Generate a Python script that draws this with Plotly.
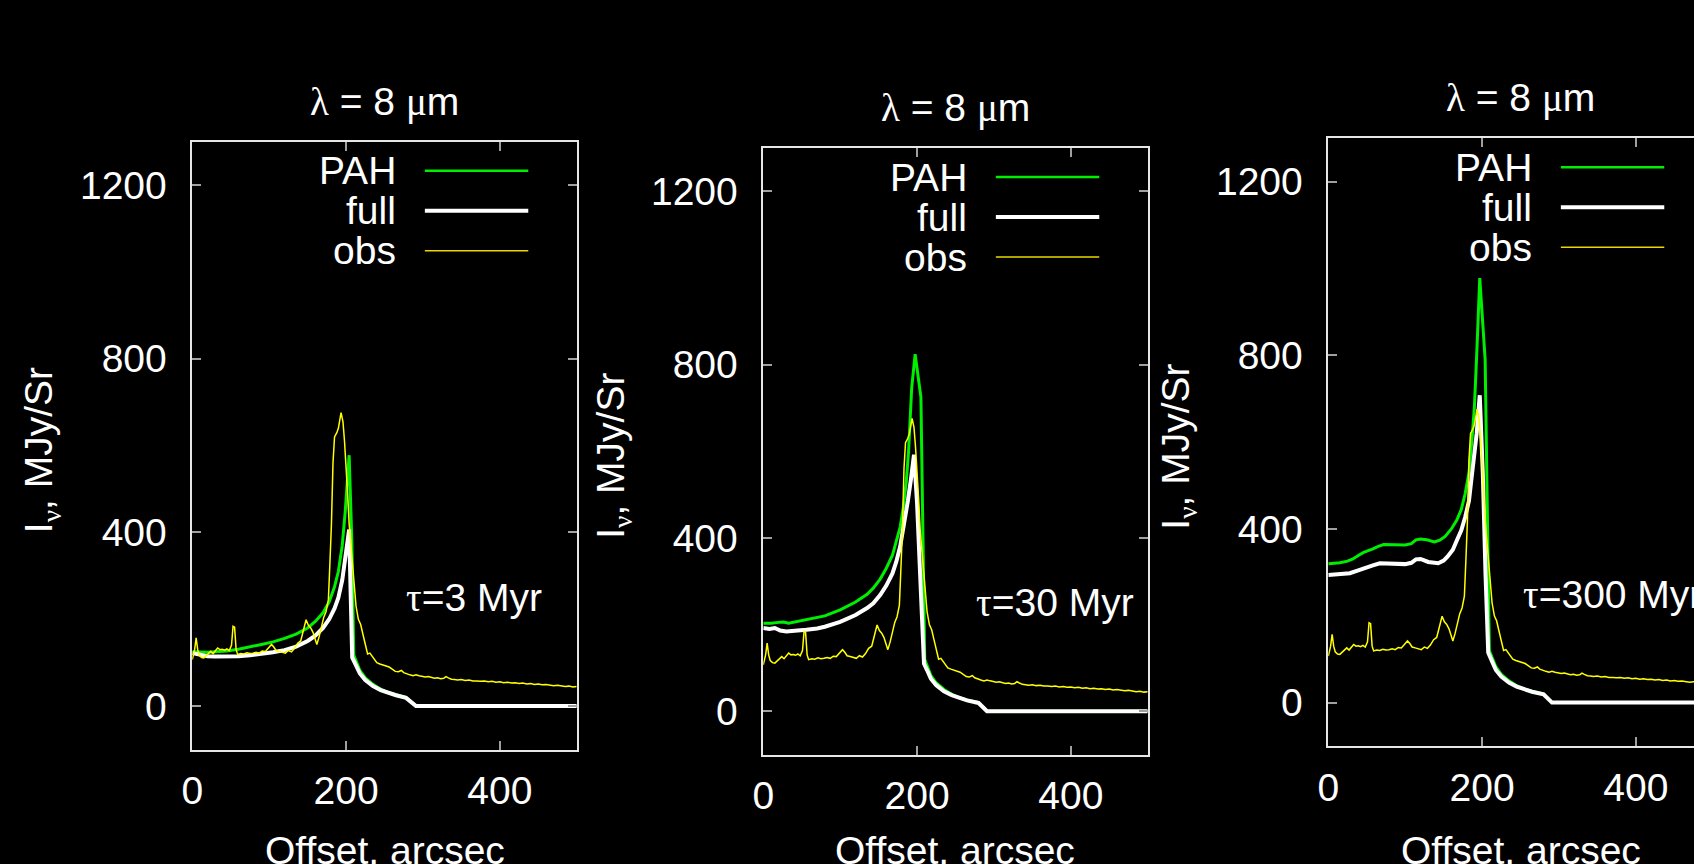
import plotly.graph_objects as go

# ---- observed 8 micron profile (same in every panel) ----
obs_x = [0, 3, 5, 7, 9, 12, 15, 18, 21, 24, 27, 30, 33, 36, 39, 42, 45, 48, 51, 53, 55, 57, 59,
         63, 67, 71, 75, 79, 83, 87, 91, 95, 99, 103, 106, 109, 113, 117, 121, 125, 129, 133,
         137, 141, 145, 148, 151, 154, 157, 160, 162, 165, 168, 171, 174, 177, 179, 181, 183,
         185, 188, 190, 193.5, 196, 198, 200, 202, 204, 207, 210, 213, 216, 219, 222, 225, 228,
         231, 234, 237, 240, 244, 248, 252, 256, 260, 264, 268, 272, 275, 279, 283, 287, 291,
         295, 299, 303, 307, 311, 315, 319, 323, 327, 330, 333, 337, 341, 345, 350, 355, 360,
         365, 370, 375, 380, 385, 390, 395, 400, 405, 410, 415, 420, 425, 430, 435, 440, 445,
         450, 455, 460, 465, 470, 475, 480, 485, 490, 495, 500]
obs_v = [107, 130, 157, 130, 117, 112, 111, 116, 122, 126, 121, 128, 134, 130, 131, 129, 132,
         128, 140, 184, 182, 130, 119, 121, 120, 123, 121, 122, 124, 122, 127, 126, 134, 142,
         136, 128, 126, 124, 122, 128, 125, 133, 145, 150, 180, 199, 186, 180, 170, 150, 142,
         160, 180, 205, 218, 245, 330, 420, 560, 620, 630, 640, 676, 655, 610, 560, 490, 420,
         360, 290, 230, 200, 188, 165, 140, 120, 122, 115, 108, 100, 97, 95, 92, 90, 85, 80,
         79, 82, 77, 74, 72, 70, 72, 70, 68, 67, 68, 66, 64, 65, 63, 64, 68, 65, 62, 61, 60,
         61, 59, 60, 58, 58, 57, 58, 56, 57, 55, 56, 54, 55, 53, 54, 52, 53, 51, 52, 50, 51,
         49, 50, 48, 47, 48, 46, 45, 46, 44, 45]

# ---- model profiles, tau = 3 Myr ----
full1_x = [0, 10, 20, 30, 45, 60, 75, 90, 105, 120, 135, 150, 160, 170, 178, 185, 190, 195,
           199, 202, 204, 208, 213, 218, 225, 235, 245, 255, 265, 278, 291, 500]
full1_v = [122, 118, 115, 114, 114, 115, 117, 120, 124, 129, 137, 150, 162, 180, 200, 225,
           250, 290, 340, 380, 407, 112, 95, 75, 60, 46, 37, 30, 25, 19, 0, 0]
pah1_x = [0, 10, 20, 30, 45, 60, 75, 90, 105, 120, 135, 150, 160, 170, 178, 185, 190, 195,
          199, 202, 204, 207.5, 210, 214, 218, 225, 235, 245, 255, 265, 278, 291, 500]
pah1_v = [125, 124, 124, 125, 127, 131, 136, 142, 148, 156, 166, 180, 195, 215, 240, 275,
          310, 370, 450, 530, 578, 380, 118, 100, 82, 65, 50, 39, 31, 26, 20, 0, 0]

# ---- model profiles, tau = 30 Myr ----
full2_x = [0, 8, 15, 22, 30, 45, 56, 70, 80, 100, 120, 135, 143, 152, 160, 168, 173, 178,
           184, 188, 192, 196, 200, 204, 209, 213, 218, 225, 235, 245, 255, 265, 280, 291, 500]
full2_v = [192, 190, 192, 186, 184, 185, 188, 191, 195, 206, 222, 238, 249, 268, 290, 318,
           345, 380, 438, 485, 535, 592, 480, 300, 110, 95, 75, 60, 46, 37, 30, 25, 19, 0, 0]
pah2_x = [0, 10, 20, 26, 33, 45, 56, 70, 80, 100, 120, 135, 143, 152, 160, 168, 173, 178,
          182, 186, 189, 193, 197.5, 205, 210, 214, 218, 225, 235, 245, 255, 265, 280, 291, 500]
pah2_v = [203, 203, 205, 206, 203, 207, 211, 216, 220, 234, 252, 270, 284, 305, 330, 360,
          392, 425, 469, 530, 600, 746, 824, 725, 119, 100, 82, 65, 50, 39, 31, 26, 20, 0, 0]

# ---- model profiles, tau = 300 Myr ----
full3_x = [0, 15, 28, 38, 46, 58, 67, 88, 100, 108, 114, 120, 130, 143, 150, 155, 162, 167,
           173, 178, 183, 186, 190, 193, 197, 201, 204.5, 208, 213, 218, 225, 235, 245, 255,
           265, 280, 291, 500]
full3_v = [294, 295, 298, 304, 308, 316, 321, 319, 319, 322, 330, 331, 324, 321, 327, 336,
           352, 373, 397, 427, 465, 512, 570, 620, 708, 527, 296, 115, 95, 75, 60, 46, 37,
           30, 25, 19, 0, 0]
pah3_x = [0, 15, 25, 32, 40, 46, 58, 65, 72, 88, 100, 108, 114, 120, 128, 138, 145, 152, 160,
          167, 173, 178, 183, 187, 190, 193, 197, 204, 209.5, 214, 218, 225, 235, 245, 255,
          265, 280, 291, 500]
pah3_v = [320, 322, 326, 331, 340, 346, 354, 360, 364, 364, 363, 366, 375, 377, 375, 370,
          374, 383, 400, 420, 445, 481, 530, 610, 680, 800, 978, 790, 120, 100, 82, 65, 50,
          39, 31, 26, 20, 0, 0]

ages = ["τ=3 Myr", "τ=30 Myr", "τ=300 Myr"]
age_x = [276, 274, 250]
age_y = [250, 250, 250]
series_names = ["PAH", "full", "obs"]
x_ticks = [0, 200, 400]
y_ticks = [0, 400, 800, 1200]

models = [(pah1_x, pah1_v, full1_x, full1_v),
          (pah2_x, pah2_v, full2_x, full2_v),
          (pah3_x, pah3_v, full3_x, full3_v)]

W, H = 1694, 864
# plot boxes in pixels: left, right, top, bottom
boxes = [(192.3, 576.7, 141.8, 749.5),
         (763.3, 1147.7, 148.0, 754.5),
         (1328.3, 1712.7, 138.3, 746.0)]

GREEN = "#00ee00"
WHITE = "#ffffff"
YELLOW = "#ffff00"
FONT = "Liberation Sans"
FS = 39
GREEK = "<span style=\"font-family:'Liberation Serif'\">%s</span>"

fig = go.Figure()
annotations = []
shapes = []

for i, (px, pv, fx, fv) in enumerate(models):
    n = "" if i == 0 else str(i + 1)
    xa, ya = "x" + n, "y" + n
    fig.add_trace(go.Scatter(x=px, y=pv, mode="lines", line=dict(color=GREEN, width=3),
                             xaxis=xa, yaxis=ya, showlegend=False, name=series_names[0]))
    fig.add_trace(go.Scatter(x=fx, y=fv, mode="lines", line=dict(color=WHITE, width=4),
                             xaxis=xa, yaxis=ya, showlegend=False, name=series_names[1]))
    fig.add_trace(go.Scatter(x=obs_x, y=obs_v, mode="lines", line=dict(color=YELLOW, width=1.5),
                             xaxis=xa, yaxis=ya, showlegend=False, name=series_names[2]))

    l, r, t, b = boxes[i]
    r_vis = min(r, W)
    xmax = 500 * (r_vis - l) / (r - l)
    dom_x = [l / W, r_vis / W]
    dom_y = [1 - b / H, 1 - t / H]
    cut = r > W
    axis_common = dict(showgrid=False, zeroline=False, showline=True, linecolor="#e6e6e6",
                       linewidth=1.5, ticks="inside", ticklen=9, tickwidth=1.5,
                       tickcolor="#a0a0a0", tickfont=dict(family=FONT, size=FS, color="white"))
    fig.layout["xaxis" + n] = dict(axis_common, domain=dom_x, range=[0, xmax], tickvals=x_ticks,
                                  mirror="ticks", anchor=ya, ticklabelstandoff=6)
    fig.layout["yaxis" + n] = dict(axis_common, domain=dom_y, range=[-100, 1300],
                                  tickvals=y_ticks, mirror=(False if cut else "ticks"),
                                  anchor=xa, ticklabelstandoff=16)

    pw, ph = r - l, b - t
    cx = (l + r) / 2
    # panel title
    annotations.append(dict(text="%s = 8 %sm" % (GREEK % "λ", GREEK % "μ"), xref="paper",
                            yref="paper", x=cx / W, y=1 - (t - 40) / H, showarrow=False,
                            xanchor="center", yanchor="middle",
                            font=dict(family=FONT, size=FS, color="white")))
    # axis titles
    annotations.append(dict(text="Offset, arcsec", xref="paper", yref="paper", x=cx / W,
                            y=1 - 850 / H, showarrow=False, xanchor="center", yanchor="middle",
                            font=dict(family=FONT, size=FS, color="white")))
    annotations.append(dict(text="I<sub>%s</sub>, MJy/Sr" % (GREEK % "ν"), xref="paper",
                            yref="paper", x=(l - 150) / W, y=1 - (t + 0.507 * ph) / H,
                            showarrow=False, textangle=-90, xanchor="center", yanchor="middle",
                            font=dict(family=FONT, size=FS, color="white")))
    # age label
    annotations.append(dict(text=GREEK % ages[i][0] + ages[i][1:], xref=xa, yref=ya,
                            x=age_x[i], y=age_y[i], showarrow=False, xanchor="left",
                            yanchor="middle", font=dict(family=FONT, size=FS, color="white")))
    # key: label then sample line
    key_styles = [(GREEN, 2.5), (WHITE, 4), ("#e8d800", 1.5)]
    for k, name in enumerate(series_names):
        yk = 1 - (t + 29 + 40 * k) / H
        annotations.append(dict(text=name, xref="paper", yref="paper",
                                x=(l + 0.535 * 384.4) / W, y=yk, showarrow=False,
                                xanchor="right", yanchor="middle",
                                font=dict(family=FONT, size=FS, color="white")))
        shapes.append(dict(type="line", xref="paper", yref="paper",
                           x0=(l + 0.605 * 384.4) / W, x1=(l + 0.874 * 384.4) / W,
                           y0=yk, y1=yk, line=dict(color=key_styles[k][0],
                                                    width=key_styles[k][1])))

fig.update_layout(width=W, height=H, margin=dict(l=0, r=0, t=0, b=0, autoexpand=False),
                  paper_bgcolor="black", plot_bgcolor="black", showlegend=False,
                  annotations=annotations, shapes=shapes)

fig.write_html("out.html")
